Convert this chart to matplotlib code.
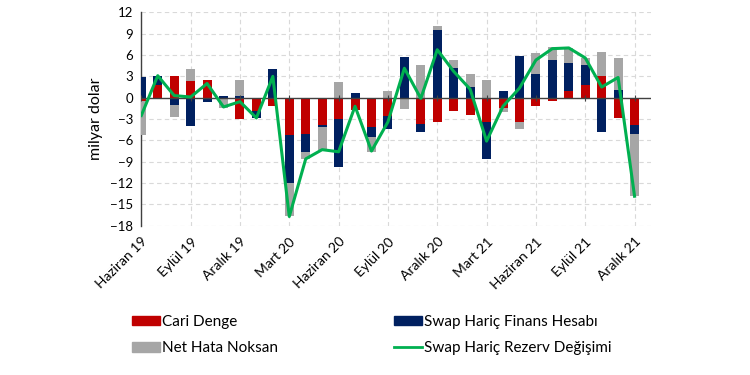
import matplotlib
matplotlib.use("Agg")
import matplotlib.pyplot as plt
import numpy as np
from matplotlib.patches import Patch
from matplotlib.lines import Line2D

plt.rcParams['font.family'] = ['Lato', 'DejaVu Sans']

months = ["Haziran 19", "Temmuz 19", "Ağustos 19", "Eylül 19", "Ekim 19", "Kasım 19",
          "Aralık 19", "Ocak 20", "Şubat 20", "Mart 20", "Nisan 20", "Mayıs 20",
          "Haziran 20", "Temmuz 20", "Ağustos 20", "Eylül 20", "Ekim 20", "Kasım 20",
          "Aralık 20", "Ocak 21", "Şubat 21", "Mart 21", "Nisan 21", "Mayıs 21",
          "Haziran 21", "Temmuz 21", "Ağustos 21", "Eylül 21", "Ekim 21", "Kasım 21",
          "Aralık 21"]

cari_denge = [-0.4, 1.8, 3.0, 2.4, 2.5, 0.0, -3.0, -1.9, -1.1, -5.3, -5.15, -3.9,
              -3.0, -1.75, -4.1, -2.5, 0.0, -3.65, -3.45, -1.8, -2.4, -3.35, -1.45,
              -3.35, -1.1, -0.45, 0.95, 1.8, 3.0, -2.8, -3.85]
finans_hesabi = [2.9, 1.3, -1.0, -4.0, -0.55, 0.3, 0.3, -0.95, 4.1, -6.75, -2.45, -0.15,
                 -6.8, 0.65, -1.4, -1.9, 5.7, -1.1, 9.5, 4.15, 1.5, -5.2, 0.95,
                 5.85, 3.35, 5.35, 3.95, 2.75, -4.8, 1.1, -1.25]
net_hata = [-4.9, 0.0, -1.7, 1.6, -0.1, -1.5, 2.15, 0.0, 0.0, -4.6, -1.0, -3.3,
            2.15, 0.0, -2.1, 0.95, -1.55, 4.6, 0.6, 1.15, 1.9, 2.45, -0.6,
            -1.1, 3.0, 1.8, 2.1, 1.1, 3.4, 4.45, -8.65]
rezerv_degisimi = [-2.5, 3.1, 0.3, 0.1, 2.0, -1.3, -0.55, -2.85, 3.0, -16.7, -8.6, -7.3,
                   -7.6, -1.2, -7.5, -3.4, 4.15, -0.1, 6.75, 3.7, 1.2, -6.1, -1.2,
                   1.35, 5.3, 6.9, 7.0, 5.6, 1.5, 2.85, -13.85]

tick_labels = ["Haziran 19", "Eylül 19", "Aralık 19", "Mart 20", "Haziran 20", "Eylül 20",
               "Aralık 20", "Mart 21", "Haziran 21", "Eylül 21", "Aralık 21"]

c_red = "#C00000"
c_navy = "#002060"
c_gray = "#A6A6A6"
c_green = "#00B050"

fig = plt.figure(figsize=(7.5, 3.75), dpi=100)
ax = fig.add_axes([0.1884, 0.398, 0.6796, 0.569])

x = np.arange(len(months))
series = [(cari_denge, c_red), (finans_hesabi, c_navy), (net_hata, c_gray)]
pos_base = np.zeros(len(x))
neg_base = np.zeros(len(x))
w = 0.55
for vals, col in series:
    v = np.array(vals, dtype=float)
    base = np.where(v >= 0, pos_base, neg_base)
    ax.bar(x, v, width=w, bottom=base, color=col, zorder=3)
    pos_base = pos_base + np.where(v >= 0, v, 0)
    neg_base = neg_base + np.where(v < 0, v, 0)

ax.plot(x, rezerv_degisimi, color=c_green, lw=2.2, zorder=5)

ax.set_xlim(0, 31)
ax.set_ylim(-18, 12)
ax.set_yticks(np.arange(-18, 13, 3))
ax.tick_params(axis='y', labelsize=9.5, length=0, pad=6, colors='#000000')
tick_pos = [months.index(t) for t in tick_labels]
ax.set_xticks(tick_pos)
ax.set_xticklabels(tick_labels, rotation=45, ha='right', rotation_mode='anchor', fontsize=10)
ax.tick_params(axis='x', length=0, pad=7)

ax.grid(True, axis='both', color='#D9D9D9', linestyle=(0, (4, 3)), lw=0.8, zorder=0)
for s in ['top', 'right', 'bottom']:
    ax.spines[s].set_visible(False)
ax.spines['left'].set_color('#404040')
ax.spines['left'].set_linewidth(1.0)
ax.axhline(0, color='#404040', lw=1.0, zorder=4)
ax.scatter(tick_pos, np.zeros(len(tick_pos)), marker='|', s=20, color='#404040',
           lw=0.8, zorder=4)
ax.set_ylabel("milyar dolar", fontsize=11.5, labelpad=5)

handles = [Patch(color=c_red), Patch(color=c_gray), Patch(color=c_navy),
           Line2D([0], [0], color=c_green, lw=2)]
labels = ["Cari Denge", "Net Hata Noksan", "Swap Hariç Finans Hesabı",
          "Swap Hariç Rezerv Değişimi"]
fig.legend(handles, labels, ncol=2, loc='upper left', bbox_to_anchor=(0.166, 0.18),
           frameon=False, fontsize=11, handlelength=1.8, handleheight=0.55,
           handletextpad=0.15, columnspacing=7.6, labelspacing=0.8, borderpad=0)

fig.savefig("out.png", dpi=100)
